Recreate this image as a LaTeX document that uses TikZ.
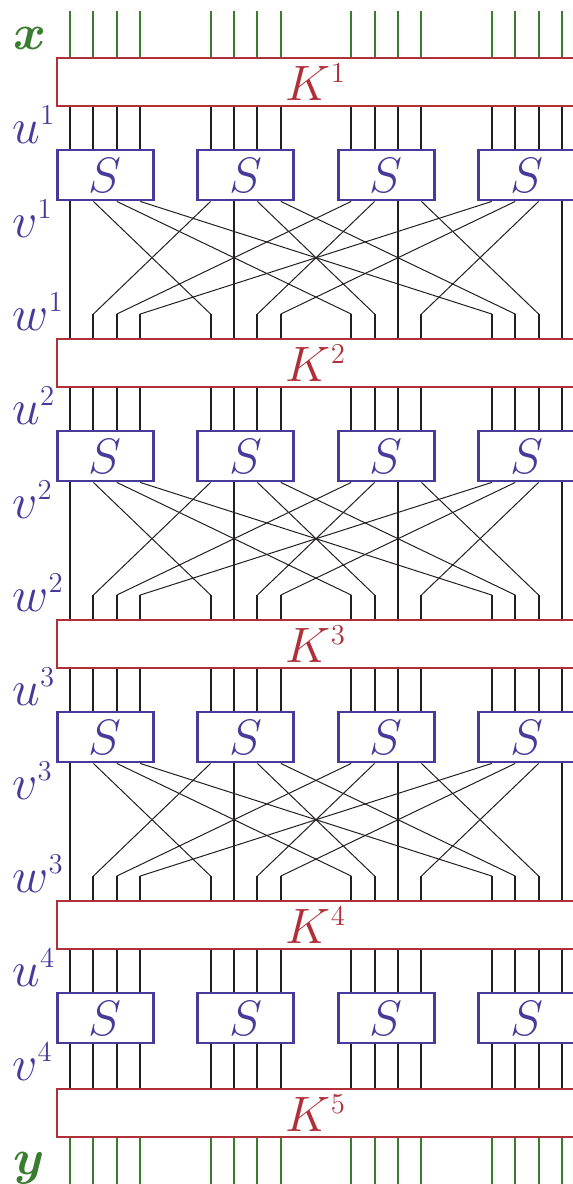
\documentclass[tikz,border=0pt]{standalone}
\usepackage{amsmath}
\usetikzlibrary{positioning,calc}
\definecolor{keyred}{HTML}{B0303A}
\definecolor{sboxblue}{HTML}{463A9A}
\definecolor{bitgreen}{HTML}{3A7D30}
\definecolor{wireblack}{HTML}{231F20}
\DeclareMathSizes{23.5}{23.5}{14.5}{10}
\DeclareMathSizes{26}{26}{15.5}{10}
\tikzset{
  keybox/.style={rectangle,draw=keyred,line width=1pt,fill=white,inner sep=0pt,minimum width=259.3pt,minimum height=24pt,text=keyred,font=\fontsize{23.5}{28}\selectfont},
  sbox/.style={rectangle,draw=sboxblue,line width=1.45pt,fill=white,inner sep=0pt,minimum width=48pt,minimum height=25pt,text=sboxblue,font=\fontsize{23.5}{28}\selectfont},
  wire/.style={line width=1pt,wireblack},
  crosswire/.style={line width=0.5pt,wireblack},
  bitwire/.style={line width=1pt,bitgreen},
  statelabel/.style={anchor=base west,inner sep=0pt,text=sboxblue,font=\fontsize{26}{30}\selectfont},
  iolabel/.style={anchor=base west,inner sep=0pt,text=bitgreen,font=\fontsize{26}{30}\selectfont}
}

\begin{document}
\begin{tikzpicture}[x=0.5pt,y=-0.5pt]
  \useasboundingbox (0,0) rectangle (573,1184);
  % bit positions
  \foreach \b in {0,...,15}{
    \pgfmathsetmacro\xb{70+23.43*(\b+2*floor(\b/4))}
    \coordinate (b\b) at (\xb,0);
  }
  \coordinate (top) at (0,11);
  \coordinate (bot) at (0,1184);

  % round keys
  \node[keybox] (K1) at (316,82) {$K^1$};
  \node[keybox] (K2) at (316,363) {$K^2$};
  \node[keybox] (K3) at (316,644) {$K^3$};
  \node[keybox] (K4) at (316,925) {$K^4$};
  \node[keybox] (K5) at (316,1113) {$K^5$};

  % s-boxes
  \foreach \r in {1,...,4}
    \foreach \grp in {0,...,3}
      \node[sbox] (S\r\grp) at ({105.1+140.6*\grp},{175+281*(\r-1)}) {$S$};

  % labels
  \node[iolabel] (xlab) at (13,49) {$\boldsymbol{x}$};
  \node[iolabel] (ylab) at (13,1174) {$\boldsymbol{y}$};
  \foreach \r in {1,...,4}{
    \node[statelabel] (u\r) at (12,{143+281*(\r-1)}) {$u^{\r}$};
    \node[statelabel] (v\r) at (12,{237+281*(\r-1)}) {$v^{\r}$};
  }
  \foreach \r in {1,...,3}
    \node[statelabel] (w\r) at (12,{330+281*(\r-1)}) {$w^{\r}$};

  % straight wires
  \foreach \b in {0,...,15}{
    \pgfmathtruncatemacro\grp{floor(\b/4)}
    \draw[bitwire] (b\b |- top) -- (b\b |- K1.north);
    \draw[bitwire] (b\b |- K5.south) -- (b\b |- bot);
    \draw[wire] (b\b |- S4\grp.south) -- (b\b |- K5.north);
    \foreach \r in {1,...,4}
      \draw[wire] (b\b |- K\r.south) -- (b\b |- S\r\grp.north);
  }

  % permutation
  \foreach \r/\n in {1/2,2/3,3/4}{
    \foreach \b in {0,...,15}{
      \pgfmathtruncatemacro\grp{floor(\b/4)}
      \pgfmathtruncatemacro\dst{4*mod(\b,4)+\grp}
      \ifnum\dst=\b
        \draw[wire] (b\b |- S\r\grp.south) -- (b\b |- K\n.north);
      \else
        \draw[crosswire] (b\b |- S\r\grp.south) -- ($(b\dst |- K\n.north)+(0,-24)$);
        \draw[wire] ($(b\dst |- K\n.north)+(0,-24)$) -- (b\dst |- K\n.north);
      \fi
    }
  }
\end{tikzpicture}
\end{document}
